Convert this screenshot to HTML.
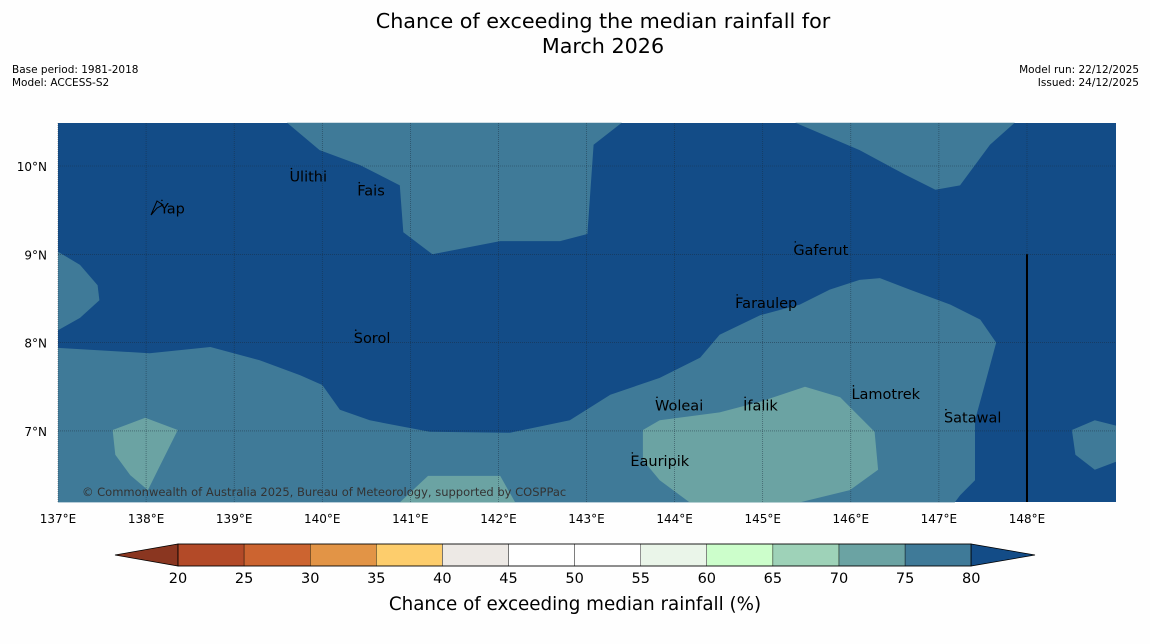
<!DOCTYPE html>
<html><head><meta charset="utf-8">
<style>
body{margin:0;background:#fefefe;font-family:"DejaVu Sans","Liberation Sans",sans-serif;}
#wrap{position:relative;width:1150px;height:644px;overflow:hidden;}
.t{position:absolute;color:#000;}
</style></head>
<body>
<div id="wrap">
<div class="t" style="left:28px;width:1150px;top:9px;text-align:center;font-size:20.7px;line-height:25px;">Chance of exceeding the median rainfall for<br>March 2026</div>
<div class="t" style="left:12px;top:64px;font-size:10.5px;line-height:13px;">Base period: 1981-2018<br>Model: ACCESS-S2</div>
<div class="t" style="right:11px;top:64px;font-size:10.5px;line-height:13px;text-align:right;">Model run: 22/12/2025<br>Issued: 24/12/2025</div>
<svg id="svg" width="1150" height="644" style="position:absolute;left:0;top:0"></svg>
</div>
<script>
const lonTicks=[137,138,139,140,141,142,143,144,145,146,147,148];
const latTicks=[7,8,9,10];
const cbTicks=[20,25,30,35,40,45,50,55,60,65,70,75,80];
const cbColors=["#b34a28","#cc6430","#e29446","#fdcd6c","#ede9e5","#ffffff","#ffffff","#eaf5e9","#ccfecb","#9ed2b8","#6ba3a3","#3f7a98"];
const midLon=[[139.60,139.97,140.43,140.88,140.92,141.25,142.02,142.70,143.01,143.08,143.40],
[145.37,146.10,146.62,146.96,147.24,147.58,147.86],
[137.00,137.25,137.45,137.47,137.25,137.00],
[137.00,138.04,138.73,139.29,139.75,140.00,140.20,140.54,141.22,142.13,142.81,143.27,143.83,144.29,144.51,144.97,145.42,145.76,146.10,146.33,146.67,147.13,147.47,147.65,147.52,147.41,147.41,147.24,147.18,137.00],
[148.51,148.77,149.01,149.01,148.77,148.55]];
const midLat=[[10.49,10.18,10.01,9.78,9.25,9.00,9.15,9.15,9.23,10.24,10.49],
[10.49,10.18,9.90,9.73,9.78,10.24,10.49],
[9.03,8.88,8.65,8.48,8.28,8.14],
[7.94,7.88,7.95,7.80,7.63,7.52,7.24,7.12,6.99,6.98,7.12,7.41,7.60,7.83,8.09,8.31,8.43,8.60,8.71,8.73,8.60,8.43,8.26,8.00,7.52,7.12,6.44,6.27,6.19,6.19],
[7.01,7.12,7.06,6.65,6.56,6.73]];
const lightLon=[[137.62,137.99,138.36,138.16,138.02,137.82,137.65],
[143.64,143.83,144.51,144.97,145.48,145.88,146.27,146.31,145.99,145.42,144.17,143.83,143.64],
[141.20,142.02,142.19,140.88]];
const lightLat=[[7.01,7.15,7.01,6.61,6.33,6.50,6.73],
[7.01,7.12,7.21,7.33,7.50,7.38,6.99,6.56,6.33,6.19,6.19,6.44,6.67],
[6.49,6.49,6.19,6.19]];
const places=["Ulithi","Fais","Yap","Gaferut","Faraulep","Sorol","Woleai","Ifalik","Lamotrek","Satawal","Eauripik"];
const placeLon=[139.65,140.42,138.18,145.37,144.71,140.38,143.80,144.80,146.03,147.08,143.52];
const placeLat=[9.88,9.72,9.52,9.05,8.45,8.05,7.29,7.29,7.42,7.15,6.66];

const X0=58,X1=1116,Y0=123,Y1=502;
const xs=lon=>58+(lon-137)*88.09;
const ys=lat=>166+(10-lat)*88.3;
const svg=document.getElementById('svg');
const NS='http://www.w3.org/2000/svg';
const FF='DejaVu Sans, Liberation Sans, sans-serif';
function mk(tag,at){const e=document.createElementNS(NS,tag);for(const k in at)e.setAttribute(k,at[k]);svg.appendChild(e);return e;}
let bg=mk('rect',{x:X0,y:Y0,width:X1-X0,height:Y1-Y0,fill:'#134c87'});


function poly(lons,lats,fill,name){
  const d=lons.map((l,i)=>xs(l).toFixed(1)+','+ys(lats[i]).toFixed(1)).join(' ');
  const p=mk('polygon',{points:d,fill:fill});
  
  
}
midLon.forEach((a,i)=>poly(a,midLat[i],'#3f7a98','contour-75-80'));
lightLon.forEach((a,i)=>poly(a,lightLat[i],'#6ba3a3','contour-70-75'));
lonTicks.forEach(l=>{
  const g=mk('line',{x1:xs(l),x2:xs(l),y1:Y0,y2:Y1,stroke:'#1a2a3a','stroke-width':0.6,'stroke-dasharray':'1,1',opacity:0.7});
  
  
  const t=mk('text',{x:xs(l),y:523,'font-size':12,'text-anchor':'middle','font-family':FF});
  t.textContent=l+'°E';
  
  
});
latTicks.forEach(l=>{
  const g=mk('line',{x1:X0,x2:X1,y1:ys(l),y2:ys(l),stroke:'#1a2a3a','stroke-width':0.6,'stroke-dasharray':'1,1',opacity:0.7});
  
  
  const t=mk('text',{x:47,y:ys(l)+5,'font-size':12,'text-anchor':'end','font-family':FF});
  t.textContent=l+'°N';
  
  
});
let vl=mk('line',{x1:xs(148),x2:xs(148),y1:ys(9),y2:Y1,stroke:'#000','stroke-width':2});


places.forEach((p,i)=>{
  const t=mk('text',{x:xs(placeLon[i])-2,y:ys(placeLat[i])+5,'font-size':14.5,'font-family':FF,fill:'#000'});
  t.textContent=p;
  
  
  const d=mk('circle',{cx:xs(placeLon[i]),cy:ys(placeLat[i])-8,r:0.8,fill:'#000'});
  
  
});
let yap=mk('path',{d:'M151,215 L157,201 L163,205 L157,208 Z',fill:'none',stroke:'#000','stroke-width':1});


let cp=mk('text',{x:82,y:496,'font-size':11.5,fill:'#333','font-family':FF});
cp.textContent='© Commonwealth of Australia 2025, Bureau of Meteorology, supported by COSPPac';


const cb=v=>178+(v-20)*13.22;
let lt=mk('polygon',{points:'115,555 178,544 178,566',fill:'#8a3620',stroke:'#000','stroke-width':0.8});


let rt=mk('polygon',{points:'1035,555 971,544 971,566',fill:'#134c87',stroke:'#000','stroke-width':0.8});


cbColors.forEach((c,i)=>{
  const r=mk('rect',{x:cb(cbTicks[i]),y:544,width:cb(cbTicks[i+1])-cb(cbTicks[i]),height:22,fill:c,stroke:'#000','stroke-width':0.4});
  
  
});
let cbo=mk('rect',{x:178,y:544,width:793,height:22,fill:'none',stroke:'#000','stroke-width':0.8});


cbTicks.forEach(v=>{
  const t=mk('text',{x:cb(v),y:583,'font-size':14.5,'text-anchor':'middle','font-family':FF});
  t.textContent=v;
  
  
});
let cbt=mk('text',{x:575,y:610,'font-size':18.3,'text-anchor':'middle','font-family':FF});
cbt.textContent='Chance of exceeding median rainfall (%)';


</script>
</body></html>
